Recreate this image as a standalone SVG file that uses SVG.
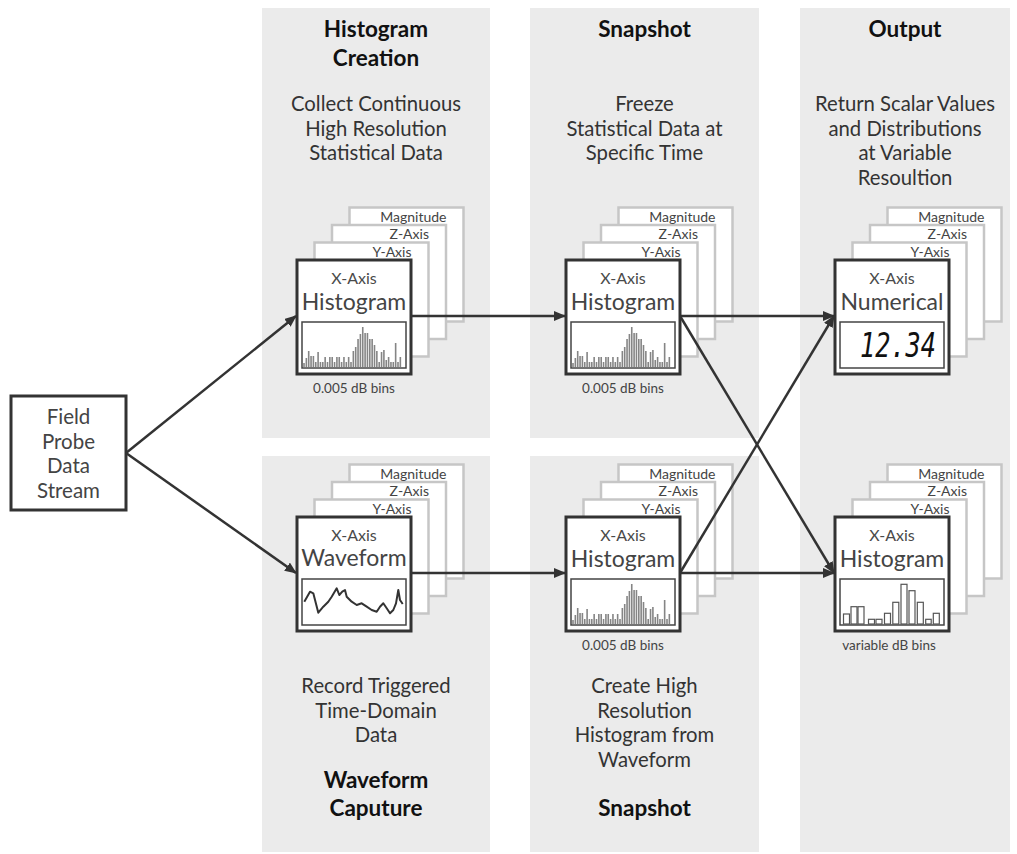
<svg xmlns="http://www.w3.org/2000/svg" xmlns:xlink="http://www.w3.org/1999/xlink" width="1017" height="854" viewBox="0 0 1017 854">
<style>
.panel{fill:#ebebeb}
.title{font-family:Lato,"Liberation Sans",sans-serif;font-weight:bold;font-size:22.5px;fill:#111;text-anchor:middle}
.body{font-family:Lato,"Liberation Sans",sans-serif;font-size:20.3px;fill:#333;text-anchor:middle}
.src{font-family:Lato,"Liberation Sans",sans-serif;font-size:20.5px;fill:#444;text-anchor:middle}
.back{fill:#fff;stroke:#c6c6c6;stroke-width:2.5}
.front{fill:#fff;stroke:#333;stroke-width:3}
.lab{font-family:Lato,"Liberation Sans",sans-serif;font-size:14px;fill:#444;text-anchor:end}
.xa{font-family:Lato,"Liberation Sans",sans-serif;font-size:16px;fill:#4a4a4a;text-anchor:middle}
.big{font-family:Lato,"Liberation Sans",sans-serif;font-size:23px;fill:#444;text-anchor:middle}
.bins{font-family:Lato,"Liberation Sans",sans-serif;font-size:13.5px;fill:#444;text-anchor:middle}
.inner{fill:#fff;stroke:#444;stroke-width:1.5}
.conn{stroke:#333;stroke-width:2.5;fill:none}
.bar{stroke:#858585;stroke-width:1.6}
.vbar{fill:#fff;stroke:#555;stroke-width:1.2}
</style>
<defs>
<marker id="ah" viewBox="0 0 12 10" refX="11" refY="5" markerWidth="12" markerHeight="10" markerUnits="userSpaceOnUse" orient="auto">
<path d="M0,0 L12,5 L0,10 z" fill="#333"/>
</marker>
<g id="stack">
<rect class="back" x="52.5" y="-52.5" width="114" height="114"/>
<rect class="back" x="35" y="-35" width="114" height="114"/>
<rect class="back" x="17.5" y="-17.5" width="114" height="114"/>
<text class="lab" x="149.5" y="-38.5">Magnitude</text>
<text class="lab" x="132" y="-21">Z-Axis</text>
<text class="lab" x="114.5" y="-3.5">Y-Axis</text>
<rect class="front" x="0" y="0" width="114" height="114"/>
<text class="xa" x="57" y="24">X-Axis</text>
<rect class="inner" x="5" y="62" width="104" height="46"/>
</g>
<g id="hist">
<path class="bar" d="M2,45v-4M4.35,45v-9M6.7,45v-16M9.05,45v-11M11.4,45v-11M13.75,45v-5M16.1,45v-15M18.45,45v-5M20.8,45v-5M23.15,45v-10M25.5,45v-5M27.85,45v-10M30.2,45v-10M32.55,45v-5M34.9,45v-10M37.25,45v-10M39.6,45v-5M41.95,45v-10M44.3,45v-5M46.65,45v-10M49,45v-5M51.35,45v-16M53.7,45v-20M56.05,45v-28M58.4,45v-33M60.75,45v-40M63.1,45v-34M65.45,45v-34M67.8,45v-28M70.15,45v-28M72.5,45v-22M74.85,45v-16M77.2,45v-5M79.55,45v-15M81.9,45v-17M84.25,45v-7M86.6,45v-10M88.95,45v-5M91.3,45v-5M93.65,45v-24M96,45v-5M98.35,45v-10"/>
</g>
</defs>

<g id="panels">
<rect class="panel" x="262" y="8" width="228" height="430"/>
<rect class="panel" x="530" y="8" width="229" height="430"/>
<rect class="panel" x="262" y="456" width="228" height="396"/>
<rect class="panel" x="530" y="456" width="229" height="396"/>
<rect class="panel" x="800" y="8" width="210" height="844"/>
</g>

<g id="texts">
<text class="title" x="376" y="37">Histogram</text>
<text class="title" x="376" y="66">Creation</text>
<text class="body" x="376" y="111">Collect Continuous</text>
<text class="body" x="376" y="135.5">High Resolution</text>
<text class="body" x="376" y="160">Statistical Data</text>
<text class="title" x="644.5" y="37">Snapshot</text>
<text class="body" x="644.5" y="111">Freeze</text>
<text class="body" x="644.5" y="135.5">Statistical Data at</text>
<text class="body" x="644.5" y="160">Specific Time</text>
<text class="title" x="905" y="37">Output</text>
<text class="body" x="905" y="111">Return Scalar Values</text>
<text class="body" x="905" y="135.5">and Distributions</text>
<text class="body" x="905" y="160">at Variable</text>
<text class="body" x="905" y="184.5">Resoultion</text>
<text class="body" x="376" y="693">Record Triggered</text>
<text class="body" x="376" y="717.5">Time-Domain</text>
<text class="body" x="376" y="742">Data</text>
<text class="title" x="376" y="788">Waveform</text>
<text class="title" x="376" y="816">Caputure</text>
<text class="body" x="644.5" y="693">Create High</text>
<text class="body" x="644.5" y="717.5">Resolution</text>
<text class="body" x="644.5" y="742">Histogram from</text>
<text class="body" x="644.5" y="766.5">Waveform</text>
<text class="title" x="644.5" y="816">Snapshot</text>
</g>

<g id="source">
<rect class="front" x="11" y="396" width="115" height="114"/>
<text class="src" x="68.5" y="424">Field</text>
<text class="src" x="68.5" y="448.5">Probe</text>
<text class="src" x="68.5" y="473">Data</text>
<text class="src" x="68.5" y="497.5">Stream</text>
</g>

<g id="hist-creation">
<use xlink:href="#stack" x="297" y="260"/>
<text class="big" x="354" y="310">Histogram</text>
<use xlink:href="#hist" x="302" y="322"/>
<text class="bins" x="354" y="393">0.005 dB bins</text>
</g>

<g id="snapshot-top">
<use xlink:href="#stack" x="566" y="260"/>
<text class="big" x="623" y="310">Histogram</text>
<use xlink:href="#hist" x="571" y="322"/>
<text class="bins" x="623" y="393">0.005 dB bins</text>
</g>

<g id="output-numerical">
<use xlink:href="#stack" x="835" y="260"/>
<text class="big" x="892" y="310">Numerical</text>
<text x="860" y="357" textLength="76" lengthAdjust="spacingAndGlyphs" style="font-family:'DejaVu Sans Mono','Liberation Mono',monospace;font-style:italic;font-size:34px;fill:#111">12.34</text>
</g>

<g id="waveform">
<use xlink:href="#stack" x="297" y="517"/>
<text class="big" x="354" y="566">Waveform</text>
<polyline fill="none" stroke="#333" stroke-width="2" stroke-linejoin="round" points="304.3,601.7 310,591.7 313.3,593.3 318.3,612.7 323.3,606.7 328.3,601.7 331.7,596.7 336.7,588.3 339.3,595 342.3,591.7 345,590 346.7,596.7 351.7,601.7 356.7,605 361.7,603.3 366.7,606.7 371.7,610 376.7,611.7 380,606.7 383.3,603.3 386.7,608.3 390,613.3 393.3,610 396,603.3 398.3,590 400,600 402.7,604"/>
</g>

<g id="snapshot-bottom">
<use xlink:href="#stack" x="566" y="517"/>
<text class="big" x="623" y="567">Histogram</text>
<use xlink:href="#hist" x="571" y="579"/>
<text class="bins" x="623" y="650">0.005 dB bins</text>
</g>

<g id="output-histogram">
<use xlink:href="#stack" x="835" y="517"/>
<text class="big" x="892" y="567">Histogram</text>
<g transform="translate(840,579)">
<rect class="vbar" x="3.5" y="35" width="6" height="10"/>
<rect class="vbar" x="11" y="27.7" width="6" height="17.3"/>
<rect class="vbar" x="18" y="27.7" width="6" height="17.3"/>
<rect class="vbar" x="28.5" y="40.3" width="6" height="4.7"/>
<rect class="vbar" x="36" y="40.3" width="6" height="4.7"/>
<rect class="vbar" x="44.5" y="34.3" width="6" height="10.7"/>
<rect class="vbar" x="52.8" y="23.3" width="6" height="21.7"/>
<rect class="vbar" x="61" y="5.3" width="6" height="39.7"/>
<rect class="vbar" x="69" y="11.7" width="6" height="33.3"/>
<rect class="vbar" x="77.3" y="23.3" width="6" height="21.7"/>
<rect class="vbar" x="85.7" y="40.3" width="5.5" height="4.7"/>
<rect class="vbar" x="93.3" y="34.3" width="6" height="10.7"/>
</g>
<text class="bins" x="889" y="650">variable dB bins</text>
</g>

<g id="connectors">
<line class="conn" x1="126" y1="453" x2="296" y2="316" marker-end="url(#ah)"/>
<line class="conn" x1="126" y1="453" x2="296" y2="573" marker-end="url(#ah)"/>
<line class="conn" x1="411" y1="316" x2="565" y2="316" marker-end="url(#ah)"/>
<line class="conn" x1="411" y1="573" x2="565" y2="573" marker-end="url(#ah)"/>
<line class="conn" x1="680" y1="316" x2="834" y2="316" marker-end="url(#ah)"/>
<line class="conn" x1="680" y1="316" x2="834" y2="573" marker-end="url(#ah)"/>
<line class="conn" x1="680" y1="573" x2="834" y2="316" marker-end="url(#ah)"/>
<line class="conn" x1="680" y1="573" x2="834" y2="573" marker-end="url(#ah)"/>
</g>
</svg>
